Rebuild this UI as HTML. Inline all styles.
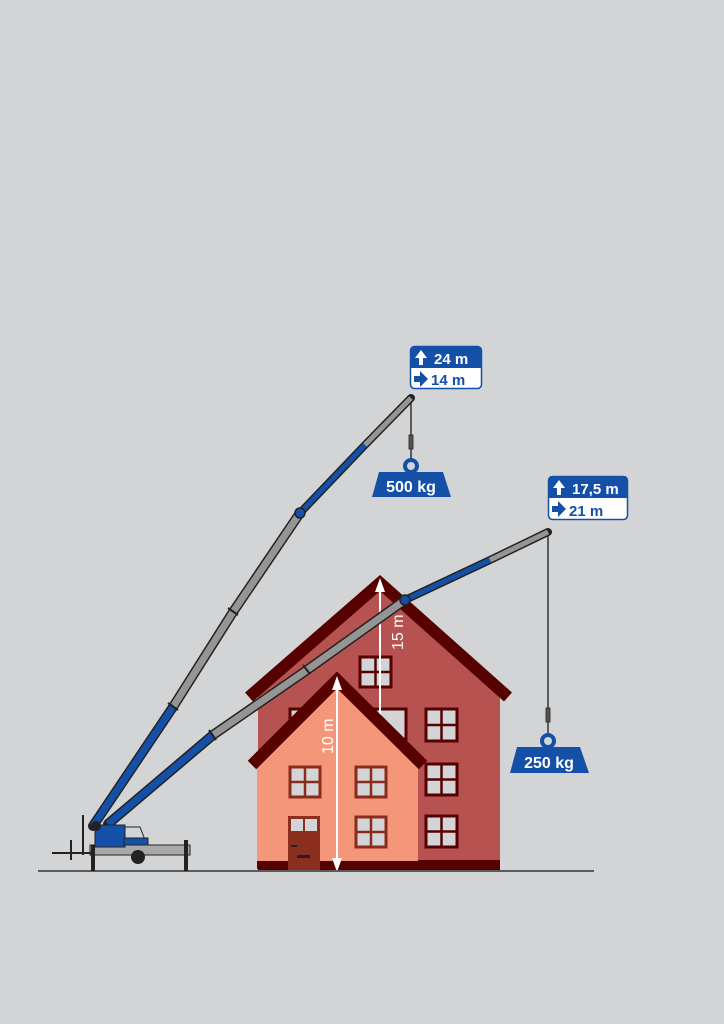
<!DOCTYPE html>
<html><head><meta charset="utf-8"><style>
html,body{margin:0;padding:0;background:#d3d4d6;}
svg{display:block;}
text{font-family:"Liberation Sans","DejaVu Sans",sans-serif;font-weight:bold;}
</style></head><body>
<svg width="724" height="1024" viewBox="0 0 724 1024" xmlns="http://www.w3.org/2000/svg">
<rect width="724" height="1024" fill="#d3d4d6"/>
<!-- back house -->
<polygon points="258,697 380,590 500,697 500,870 258,870" fill="#b65250"/>
<polyline points="249,697 380,583 508,697" fill="none" stroke="#560000" stroke-width="12"/>
<rect x="258" y="860" width="242" height="10" fill="#560000"/>
<g fill="#d3d4d6" stroke="#560000" stroke-width="3">
<rect x="360" y="657" width="31" height="30"/>
<rect x="426" y="709" width="31" height="32"/>
<rect x="426" y="764" width="31" height="31"/>
<rect x="426" y="816" width="31" height="31"/>
<rect x="290" y="709" width="31" height="30"/>
<rect x="375" y="709" width="31" height="30"/>
</g>
<g stroke="#560000" stroke-width="2.5">
<line x1="375.5" y1="657" x2="375.5" y2="687"/><line x1="360" y1="672" x2="391" y2="672"/>
<line x1="441.5" y1="709" x2="441.5" y2="741"/><line x1="426" y1="725" x2="457" y2="725"/>
<line x1="441.5" y1="764" x2="441.5" y2="795"/><line x1="426" y1="779.5" x2="457" y2="779.5"/>
<line x1="441.5" y1="816" x2="441.5" y2="847"/><line x1="426" y1="831.5" x2="457" y2="831.5"/>
</g>
<!-- 15m arrow -->
<line x1="380" y1="590" x2="380" y2="722" stroke="#fff" stroke-width="2"/>
<polygon points="380,578 375,592 385,592" fill="#fff"/>
<text transform="translate(403,650) rotate(-90)" fill="#fff" font-size="16" style="font-weight:normal">15 m</text>
<!-- front house -->
<polygon points="257,765 337,682 418,765 418,868 257,868" fill="#f4967a"/>
<polyline points="252,765 337,680 423,765" fill="none" stroke="#560000" stroke-width="12"/>
<rect x="257" y="861" width="161" height="8" fill="#560000"/>
<g fill="#d3d4d6" stroke="#8b2b1c" stroke-width="3">
<rect x="290" y="767" width="30" height="30"/>
<rect x="356" y="767" width="30" height="30"/>
<rect x="356" y="817" width="30" height="30"/>
</g>
<g stroke="#8b2b1c" stroke-width="2.5">
<line x1="305" y1="767" x2="305" y2="797"/><line x1="290" y1="782" x2="320" y2="782"/>
<line x1="371" y1="767" x2="371" y2="797"/><line x1="356" y1="782" x2="386" y2="782"/>
<line x1="371" y1="817" x2="371" y2="847"/><line x1="356" y1="832" x2="386" y2="832"/>
</g>
<rect x="288" y="816" width="32" height="54" fill="#8b2e1e"/>
<rect x="291" y="819" width="12" height="12" fill="#d3d4d6"/><rect x="305" y="819" width="12" height="12" fill="#d3d4d6"/>
<rect x="297" y="855" width="13" height="3" fill="#222"/><rect x="291" y="845" width="6" height="2" fill="#222"/>
<!-- 10m arrow -->
<line x1="337" y1="688" x2="337" y2="862" stroke="#fff" stroke-width="2"/>
<polygon points="337,676 332,690 342,690" fill="#fff"/>
<polygon points="337,872 332,858 342,858" fill="#fff"/>
<text transform="translate(333,754) rotate(-90)" fill="#fff" font-size="16" style="font-weight:normal">10 m</text>
<!-- ground -->
<line x1="38" y1="871" x2="594" y2="871" stroke="#333" stroke-width="1.5"/>
<!-- cables -->
<line x1="411" y1="398" x2="411" y2="460" stroke="#333" stroke-width="1.5"/>
<rect x="409" y="435" width="4" height="14" fill="#555" stroke="#222" stroke-width="0.8"/>
<line x1="548" y1="532" x2="548" y2="735" stroke="#333" stroke-width="1.5"/>
<rect x="546" y="708" width="4" height="14" fill="#555" stroke="#222" stroke-width="0.8"/>
<!-- booms: outline underlay -->
<g stroke="#222" stroke-linecap="round" stroke-linejoin="round" fill="none">
<polyline points="93,826 173,707 233,612 300,513" stroke-width="10"/>
<polyline points="300,513 365,445 411,398" stroke-width="8"/>
<polyline points="108,824 213,735 307,670 405,600" stroke-width="10"/>
<polyline points="405,600 490,560 548,532" stroke-width="8"/>
</g>
<g stroke-linecap="butt" fill="none">
<line x1="93" y1="826" x2="173" y2="707" stroke="#1550a8" stroke-width="7"/>
<polyline points="173,707 233,612 300,513" stroke="#959595" stroke-width="7"/>
<line x1="300" y1="513" x2="365" y2="445" stroke="#1550a8" stroke-width="5"/>
<line x1="365" y1="445" x2="411" y2="398" stroke="#959595" stroke-width="5"/>
<line x1="108" y1="824" x2="213" y2="735" stroke="#1550a8" stroke-width="7"/>
<polyline points="213,735 307,670 405,600" stroke="#959595" stroke-width="7"/>
<line x1="405" y1="600" x2="490" y2="560" stroke="#1550a8" stroke-width="5"/>
<line x1="490" y1="560" x2="548" y2="532" stroke="#959595" stroke-width="5"/>
</g>
<g stroke="#222" stroke-width="2">
<line x1="228" y1="608" x2="238" y2="615"/><line x1="168" y1="703" x2="178" y2="710"/>
<line x1="303" y1="665" x2="310" y2="674"/><line x1="209" y1="730" x2="216" y2="740"/>
</g>
<circle cx="300" cy="513" r="5" fill="#1550a8" stroke="#222" stroke-width="1.5"/>
<circle cx="405" cy="600" r="5" fill="#1550a8" stroke="#222" stroke-width="1.5"/>
<!-- trailer -->
<g>
<rect x="90" y="845" width="100" height="10" fill="#a9a9a9" stroke="#222" stroke-width="1"/>
<line x1="52" y1="853" x2="92" y2="853" stroke="#222" stroke-width="2"/>
<line x1="71" y1="840" x2="71" y2="860" stroke="#222" stroke-width="2"/>
<line x1="83" y1="815" x2="83" y2="855" stroke="#222" stroke-width="2"/>
<rect x="91" y="845" width="4" height="26" fill="#222"/>
<rect x="184" y="840" width="4" height="31" fill="#222"/>
<rect x="95" y="825" width="30" height="22" fill="#1550a8" stroke="#222"/>
<polygon points="125,827 140,827 145,840 125,840" fill="#d3d4d6" stroke="#222"/>
<rect x="124" y="838" width="24" height="7" fill="#1550a8" stroke="#222"/>
<circle cx="138" cy="857" r="7" fill="#222"/>
<circle cx="96" cy="826" r="5" fill="#222"/>
</g>
<!-- label 1 -->
<rect x="410.5" y="346.5" width="71" height="42" rx="4" fill="#fff" stroke="#1550a8" stroke-width="1.5"/>
<path d="M410.5,368 V350.5 a4,4 0 0 1 4,-4 H477.5 a4,4 0 0 1 4,4 V368 Z" fill="#1550a8"/>
<polygon points="421,350 415,358 419,358 419,365 423,365 423,358 427,358" fill="#fff"/>
<text x="434" y="364" fill="#fff" font-size="15">24 m</text>
<polygon points="414,376 420,376 420,371 428,379 420,387 420,382 414,382" fill="#1550a8"/>
<text x="431" y="385" fill="#1550a8" font-size="15">14 m</text>
<!-- weight 1 -->
<circle cx="411" cy="466" r="6" fill="none" stroke="#1550a8" stroke-width="4"/>
<polygon points="379,472 443,472 451,497 372,497" fill="#1550a8"/>
<text x="411" y="492" fill="#fff" font-size="16" text-anchor="middle">500 kg</text>
<!-- label 2 -->
<rect x="548.5" y="476.5" width="79" height="43" rx="4" fill="#fff" stroke="#1550a8" stroke-width="1.5"/>
<path d="M548.5,498 V480.5 a4,4 0 0 1 4,-4 H623.5 a4,4 0 0 1 4,4 V498 Z" fill="#1550a8"/>
<polygon points="559,480 553,488 557,488 557,495 561,495 561,488 565,488" fill="#fff"/>
<text x="572" y="494" fill="#fff" font-size="15">17,5 m</text>
<polygon points="552,506 558,506 558,501 566,509 558,517 558,512 552,512" fill="#1550a8"/>
<text x="569" y="516" fill="#1550a8" font-size="15">21 m</text>
<!-- weight 2 -->
<circle cx="548" cy="741" r="6" fill="none" stroke="#1550a8" stroke-width="4"/>
<polygon points="517,747 580,747 589,773 510,773" fill="#1550a8"/>
<text x="549" y="768" fill="#fff" font-size="16" text-anchor="middle">250 kg</text>
</svg>
</body></html>
